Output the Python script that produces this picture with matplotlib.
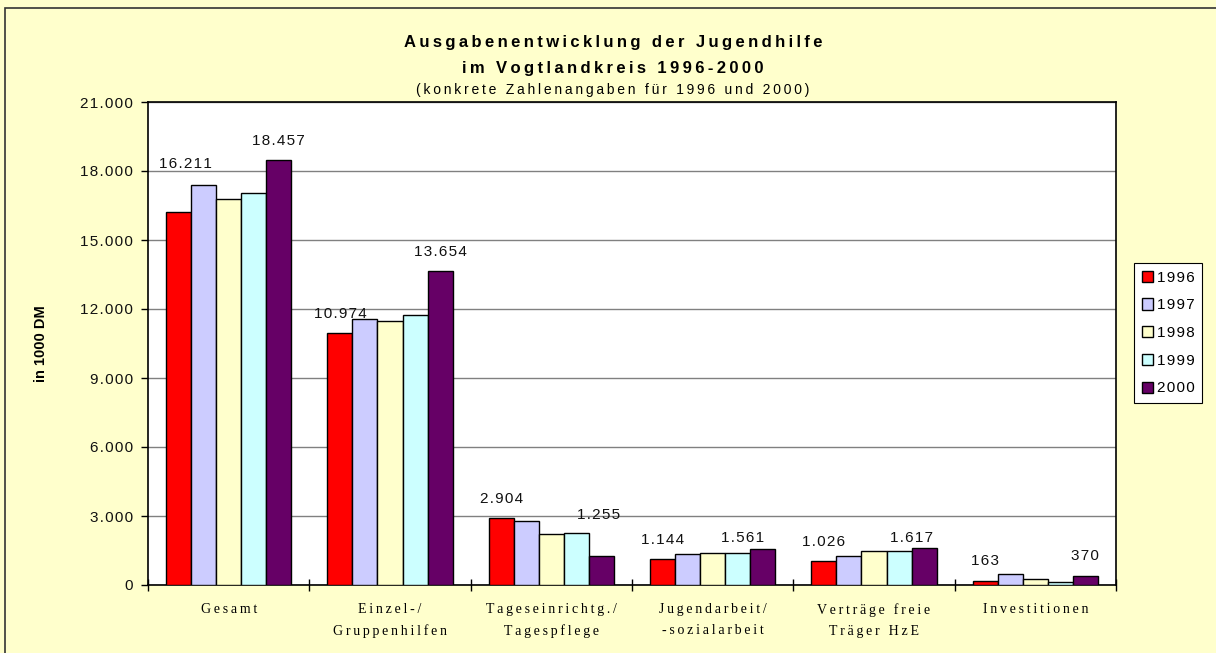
import matplotlib.pyplot as plt
import numpy as np
from matplotlib.patches import Rectangle
from matplotlib.ticker import FixedLocator, FuncFormatter

categories = ['Gesamt', 'Einzel-/\nGruppenhilfen', 'Tageseinrichtg./\nTagespflege',
              'Jugendarbeit/\n-sozialarbeit', 'Verträge freie\nTräger HzE', 'Investitionen']
years = ['1996', '1997', '1998', '1999', '2000']

v1996 = [16211, 10974, 2904, 1144, 1026, 163]
v1997 = [17400, 11570, 2770, 1330, 1260, 500]
v1998 = [16780, 11490, 2220, 1400, 1500, 260]
v1999 = [17030, 11740, 2260, 1400, 1500, 140]
v2000 = [18457, 13654, 1255, 1561, 1617, 370]

colors = ['#FF0000', '#CCCCFF', '#FFFFCC', '#CCFFFF', '#660066']
bg = '#FFFFCC'

series = [v1996, v1997, v1998, v1999, v2000]

# label offsets in pixels (dx, dy) for 1996 / 2000, most sit ~19px above the bar
off_1996 = [(7, 48), (0, 19), (0, 19), (0, 19), (0, 19), (0, 20)]
off_2000 = [(0, 19), (0, 19), (-3, 41), (-20, 11), (-13, 10), (0, 20)]

plt.rcParams['font.family'] = ['Liberation Sans', 'DejaVu Sans']
SERIF = ['Liberation Serif', 'DejaVu Serif']
THIN, HAIR = '\u2009', '\u200a'


def sp(s, ch=THIN):
    # Excel-style wide letter spacing
    return '\n'.join(ch.join(line) for line in s.split('\n'))


def fmt(v):
    return format(int(v), ',').replace(',', '.')


fig = plt.figure(figsize=(12.16, 6.53), dpi=100, facecolor=bg)
ax = fig.add_axes([148 / 1216, 1 - 585 / 653, 968 / 1216, 483 / 653])
ax.set_facecolor('white')

# outer frame of the chart (cut off at right and bottom)
fig.patches.append(Rectangle((5 / 1216, -0.2), 2, (653 - 8) / 653 + 0.2,
                             transform=fig.transFigure, fill=False,
                             edgecolor='#333333', linewidth=1.2, zorder=0))

x = np.arange(len(categories))
w = 0.155
bars = []
for j, vals in enumerate(series):
    b = ax.bar(x + (j - 2) * w, vals, w, color=colors[j], edgecolor='black',
               linewidth=1.0, label=sp(years[j], HAIR), zorder=3)
    bars.append(b)

for j, offs in ((0, off_1996), (4, off_2000)):
    for i, rect in enumerate(bars[j]):
        ax.annotate(sp(fmt(series[j][i]), HAIR),
                    (rect.get_x() + rect.get_width() / 2, rect.get_height()),
                    xytext=offs[i], textcoords='offset pixels',
                    ha='center', va='center', fontsize=11, color='#111111',
                    zorder=4)

ax.set_xlim(-0.5, len(categories) - 0.5)
ax.set_ylim(0, 21000)
ax.yaxis.set_major_locator(FixedLocator(np.arange(0, 21001, 3000)))
ax.yaxis.set_major_formatter(FuncFormatter(lambda v, p: sp(fmt(v), HAIR)))
ax.grid(axis='y', color='#808080', linewidth=1.0, zorder=0)
ax.set_axisbelow(True)

ax.set_xticks(np.arange(len(categories) + 1) - 0.5)
ax.set_xticklabels([])
ax.set_xticks(x, minor=True)
ax.set_xticklabels([sp(c, THIN) for c in categories], minor=True,
                   family=SERIF, fontsize=10, linespacing=1.8)
ax.tick_params(axis='x', which='minor', length=0, pad=13)
ax.tick_params(axis='x', which='major', direction='inout', length=8, width=1)
ax.tick_params(axis='y', direction='out', length=5, width=1, labelsize=11,
               labelcolor='#111111', pad=6)

for s in ax.spines.values():
    s.set_color('black')
    s.set_linewidth(1.2)

ax.set_ylabel('in 1000 DM', fontsize=10.5, fontweight='bold')
ax.yaxis.set_label_coords(-(148 - 48) / 968, 0.5)

fig.text(613 / 1216, 1 - 43 / 653, sp('Ausgabenentwicklung der Jugendhilfe'),
         ha='center', va='center', fontsize=12, fontweight='bold')
fig.text(613 / 1216, 1 - 69 / 653, sp('im Vogtlandkreis 1996-2000'),
         ha='center', va='center', fontsize=12, fontweight='bold')
fig.text(613 / 1216, 1 - 90 / 653, sp('(konkrete Zahlenangaben für 1996 und 2000)'),
         ha='center', va='center', fontsize=10)

leg = fig.legend(loc='center left', bbox_to_anchor=(1134 / 1216, 1 - 333 / 653),
                 fontsize=11, frameon=True, fancybox=False, framealpha=1,
                 edgecolor='black', handlelength=0.75, handleheight=0.75,
                 handletextpad=0.25, labelspacing=0.9, borderpad=0.5,
                 borderaxespad=0)
leg.get_frame().set_linewidth(0.8)

fig.savefig('out.png', dpi=100, facecolor=bg)
